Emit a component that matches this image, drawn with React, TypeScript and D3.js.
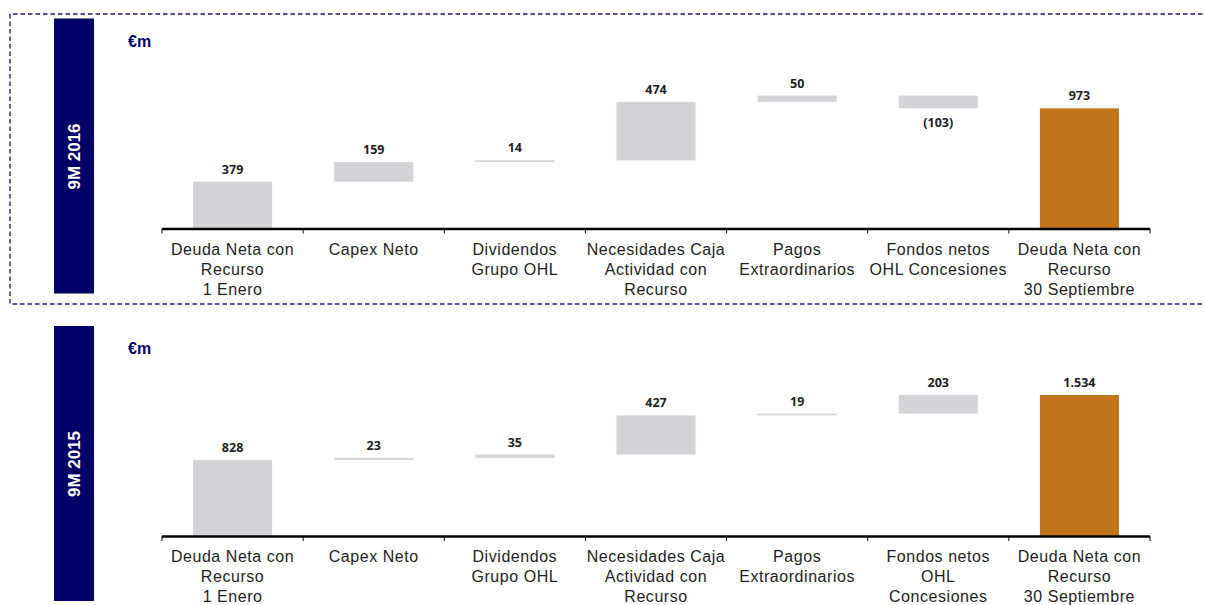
import React from "react";
import * as d3 from "d3";

// ---------- DATA ----------
const catLines2016: string[][] = [
  ["Deuda Neta con", "Recurso", "1 Enero"],
  ["Capex Neto"],
  ["Dividendos", "Grupo OHL"],
  ["Necesidades Caja", "Actividad con", "Recurso"],
  ["Pagos", "Extraordinarios"],
  ["Fondos netos", "OHL Concesiones"],
  ["Deuda Neta con", "Recurso", "30 Septiembre"],
];
const catLines2015: string[][] = [
  ["Deuda Neta con", "Recurso", "1 Enero"],
  ["Capex Neto"],
  ["Dividendos", "Grupo OHL"],
  ["Necesidades Caja", "Actividad con", "Recurso"],
  ["Pagos", "Extraordinarios"],
  ["Fondos netos", "OHL", "Concesiones"],
  ["Deuda Neta con", "Recurso", "30 Septiembre"],
];
const steps2016: number[] = [379, 159, 14, 474, 50, -103];
const final2016 = 973;
const steps2015: number[] = [828, 23, 35, 427, 19, 203];
const final2015 = 1534;
const panelTitles: string[] = ["9M 2016", "9M 2015"];
const unitLabel = "€m";

// ---------- STYLE ----------
const NAVY = "#000066";
const GREY = "#D3D4D8";
const ORANGE = "#C27418";
const TEXT = "#1E1E1E";

const locale = d3.formatLocale({ decimal: ",", thousands: ".", grouping: [3], currency: ["", "€"] });
const fmtNum = locale.format(",d");
const fmtVal = (v: number) => (v < 0 ? `(${fmtNum(-v)})` : fmtNum(v));

type PanelProps = {
  title: string;
  lines: string[][];
  steps: number[];
  finalValue: number;
  axisY: number;
  pxPerThousand: number;
};

function Panel({ title, lines, steps, finalValue, axisY, pxPerThousand }: PanelProps) {
  const keys = lines.map((l, i) => `${i}`);
  const x = d3.scaleBand<string>().domain(keys).range([162, 1150]).paddingInner(0.44).paddingOuter(0.22);
  const y = d3.scaleLinear().domain([0, 1000]).range([axisY, axisY - pxPerThousand]);

  let cum = 0;
  const bars = steps.map((v, i) => {
    const start = cum;
    cum += v;
    return { key: keys[i], y0: Math.min(start, cum), y1: Math.max(start, cum), v, final: false };
  });
  bars.push({ key: keys[keys.length - 1], y0: 0, y1: finalValue, v: finalValue, final: true });

  const step = x.step();
  const x0 = x.range()[0];
  const tickXs = d3.range(keys.length + 1).map((i) => x0 + i * step);

  return (
    <g>
      <rect x={54} y={axisY - 210} width={40} height={275} fill={NAVY} />
      <text
        transform={`translate(74.5,${axisY - 72}) rotate(-90)`}
        textAnchor="middle"
        dominantBaseline="central"
        fill="#ffffff"
        fontFamily="Liberation Sans, Arial, sans-serif"
        fontWeight="bold"
        fontSize={17}
      >
        {title}
      </text>
      <text x={128} y={axisY - 182} fill={NAVY} fontFamily="Liberation Sans, Arial, sans-serif" fontWeight="bold" fontSize={16}>
        {unitLabel}
      </text>

      {bars.map((b, i) => {
        const yt = y(b.y1);
        const yb = y(b.y0);
        const cx = (x(b.key) as number) + x.bandwidth() / 2;
        const neg = b.v < 0;
        return (
          <g key={i}>
            <rect
              x={x(b.key)}
              y={yt}
              width={x.bandwidth()}
              height={Math.max(1.2, yb - yt)}
              fill={b.final ? ORANGE : GREY}
            />
            <text
              x={cx}
              y={neg ? yb + 19 : yt - 8}
              textAnchor="middle"
              fill={TEXT}
              fontFamily="Open Sans, sans-serif"
              fontWeight="bold"
              fontSize={12.5}
            >
              {fmtVal(b.v)}
            </text>
          </g>
        );
      })}

      <line x1={x0} x2={x.range()[1]} y1={y(0) + 0.5} y2={y(0) + 0.5} stroke="#000" strokeWidth={2.6} />
      {tickXs.map((tx, i) => (
        <line key={i} x1={tx} x2={tx} y1={y(0)} y2={y(0) + 5} stroke="#000" strokeWidth={1} />
      ))}

      {lines.map((ls, i) => {
        const cx = (x(keys[i]) as number) + x.bandwidth() / 2;
        return (
          <text
            key={i}
            x={cx}
            y={y(0) + 26}
            textAnchor="middle"
            fill={TEXT}
            fontFamily="Liberation Sans, Arial, sans-serif"
            fontSize={16}
            letterSpacing={0.55}
          >
            {ls.map((t, j) => (
              <tspan key={j} x={cx} dy={j === 0 ? 0 : 20}>
                {t}
              </tspan>
            ))}
          </text>
        );
      })}
    </g>
  );
}

export default function App() {
  return (
    <svg
      width={1205}
      height={605}
      viewBox="0 0 1205 605"
      style={{ position: "absolute", left: 0, top: 0, background: "#fff" }}
    >
      <path
        d="M1210,14 H10 V304 H1210"
        fill="none"
        stroke="#1C1C88"
        strokeWidth={1.4}
        strokeDasharray="4.5,3"
      />
      <Panel
        title={panelTitles[0]}
        lines={catLines2016}
        steps={steps2016}
        finalValue={final2016}
        axisY={228.5}
        pxPerThousand={123.5}
      />
      <Panel
        title={panelTitles[1]}
        lines={catLines2015}
        steps={steps2015}
        finalValue={final2015}
        axisY={536}
        pxPerThousand={91.9}
      />
    </svg>
  );
}
